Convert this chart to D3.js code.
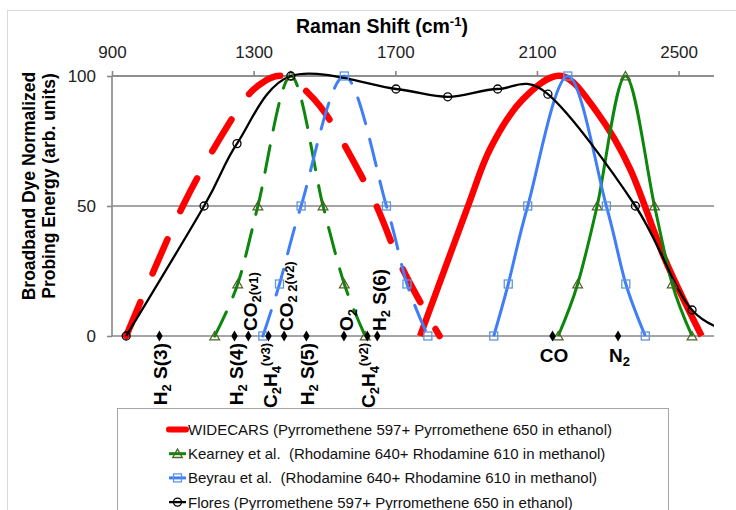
<!DOCTYPE html>
<html>
<head>
<meta charset="utf-8">
<script src="https://cdn.jsdelivr.net/npm/d3@7"></script>
<style>
  body { margin: 0; background: #fff; }
  text { font-family: "Liberation Sans", Arial, sans-serif; }
</style>
</head>
<body>
<svg id="chart" width="736" height="510"></svg>
<script>
// Raman shift axis (cm-1)
var xTicks = [900, 1300, 1700, 2100, 2500];
var yTicks = [0, 50, 100];

// WIDECARS, dashed part and solid part (no markers)
var widecarsDashX = [940, 1100, 1250, 1320, 1385, 1450, 1520, 1640, 1720, 1825];
var widecarsDashY = [0, 50, 86, 97, 100, 94, 82, 52, 26, 0];
var widecarsSolidX = [1770, 1900, 1968, 2060, 2170, 2270, 2364, 2460, 2565];
var widecarsSolidY = [0, 48, 72, 91, 100, 86, 64, 30, 0];

// Kearney et al.
var kearneyDashX = [1190, 1255, 1312, 1405, 1496, 1556, 1615];
var kearneyDashY = [0, 20, 50, 100, 50, 20, 0];
var kearneySolidX = [2160, 2215, 2270, 2350, 2432, 2482, 2538];
var kearneySolidY = [0, 20, 50, 100, 50, 20, 0];

// Beyrau et al.
var beyrauDashX = [1326, 1373, 1434, 1556, 1675, 1733, 1792];
var beyrauDashY = [0, 20, 50, 100, 50, 20, 0];
var beyrauSolidX = [1978, 2019, 2074, 2187, 2296, 2351, 2406];
var beyrauSolidY = [0, 20, 50, 100, 50, 20, 0];

// Flores
var floresX = [940, 1160, 1253, 1405, 1702, 1848, 1989, 2131, 2378, 2538, 2700];
var floresY = [0, 50, 74, 100, 95, 92, 95, 93, 50, 10, 0];

// species lines (diamonds on the zero line)
var speciesX = [1034, 1246, 1285, 1342, 1386, 1449, 1555, 1621, 1649, 2144, 2329];
var speciesLabels = [
  [["H"], ["2", "sub"], [" S(3)"]],
  [["H"], ["2", "sub"], [" S(4)"]],
  [["CO"], ["2", "sub"], ["(v1)", "small"]],
  [["C"], ["2", "sub"], ["H"], ["4", "sub"], ["(v3)", "sup"]],
  [["CO"], ["2", "sub"], [" 2", "sub"], ["(v2)", "small"]],
  [["H"], ["2", "sub"], [" S(5)"]],
  [["O"], ["2", "sub"]],
  [["C"], ["2", "sub"], ["H"], ["4", "sub"], ["(v2)", "sup"]],
  [["H"], ["2", "sub"], [" S(6)"]],
  [["CO"]],
  [["N"], ["2", "sub"]]
];
var speciesAbove = [2, 4, 6, 8];
var speciesFlat = [9, 10];

var legendNames = [
  "WIDECARS (Pyrromethene 597+ Pyrromethene 650 in ethanol)",
  "Kearney et al.  (Rhodamine 640+ Rhodamine 610 in methanol)",
  "Beyrau et al.  (Rhodamine 640+ Rhodamine 610 in methanol)",
  "Flores (Pyrromethene 597+ Pyrromethene 650 in ethanol)"
];

(function() {
  function zip(xs, ys) { return xs.map(function(v, i) { return [v, ys[i]]; }); }

  var series = [
    {color: "#ff0000", width: 6.5, marker: null, dash: "37,31",
     parts: [{pts: zip(widecarsDashX, widecarsDashY), dashed: true},
             {pts: zip(widecarsSolidX, widecarsSolidY), dashed: false}]},
    {color: "#0b870b", width: 3, marker: "triangle", mColor: "#4f6228", dash: "27,16",
     parts: [{pts: zip(kearneyDashX, kearneyDashY), dashed: true},
             {pts: zip(kearneySolidX, kearneySolidY), dashed: false}]},
    {color: "#3f7ef6", width: 3, marker: "square", mColor: "#5f95e0", dash: "27,16",
     parts: [{pts: zip(beyrauDashX, beyrauDashY), dashed: true},
             {pts: zip(beyrauSolidX, beyrauSolidY), dashed: false}]},
    {color: "#000000", width: 2.3, marker: "circle", mColor: "#000000", dash: null,
     parts: [{pts: zip(floresX, floresY), dashed: false}]}
  ];

  var svg = d3.select("#chart");
  var pLeft = 112, pRight = 714, pTop = 76, pBottom = 336;

  var x = d3.scaleLinear().domain([900, 2600]).range([pLeft, pRight]);
  var y = d3.scaleLinear().domain([0, 100]).range([pBottom, pTop]);

  // outer frame of the chart object
  svg.append("rect").attr("x", 7.5).attr("y", 10.5).attr("width", 760).attr("height", 600)
    .attr("fill", "none").attr("stroke", "#d9d9d9");

  svg.append("defs").append("clipPath").attr("id", "plotclip")
    .append("rect").attr("x", pLeft).attr("y", 0).attr("width", pRight - pLeft).attr("height", 510);

  // gridlines
  svg.append("g").selectAll("line").data(yTicks).join("line")
    .attr("x1", pLeft).attr("x2", pRight)
    .attr("y1", function(d) { return y(d); }).attr("y2", function(d) { return y(d); })
    .attr("stroke", "#878787").attr("stroke-width", 1.6);

  var gx = svg.append("g").attr("transform", "translate(0," + pTop + ")")
    .call(d3.axisTop(x).tickValues(xTicks).tickSize(5).tickPadding(13).tickFormat(d3.format("d")));
  var gy = svg.append("g").attr("transform", "translate(" + pLeft + ",0)")
    .call(d3.axisLeft(y).tickValues(yTicks).tickSize(5).tickPadding(11));
  [gx, gy].forEach(function(g) {
    g.select(".domain").attr("stroke", "#878787").attr("stroke-width", 1.6);
    g.selectAll(".tick line").attr("stroke", "#878787").attr("stroke-width", 1.6);
    g.selectAll("text").attr("font-size", 17).attr("fill", "#222")
      .attr("font-family", "Liberation Sans, Arial, sans-serif");
  });
  gx.select(".domain").attr("d", "M" + pLeft + ",0H" + pRight);
  gy.select(".domain").attr("d", "M0," + pBottom + "V" + pTop);

  // axis titles
  var title = svg.append("text").attr("x", 296).attr("y", 33)
    .attr("font-size", 19.5).attr("font-weight", "bold").attr("fill", "#000");
  title.append("tspan").text("Raman Shift (cm");
  title.append("tspan").attr("font-size", 13).attr("baseline-shift", 7).text("-1");
  title.append("tspan").text(")");

  ["Broadband Dye Normalized", "Probing Energy (arb. units)"].forEach(function(t, i) {
    svg.append("text").attr("transform", "translate(" + (35 + i * 20) + ",186) rotate(-90)")
      .attr("text-anchor", "middle").attr("font-size", 17.5).attr("font-weight", "bold")
      .text(t);
  });

  // series lines
  var line = d3.line().x(function(d) { return x(d[0]); }).y(function(d) { return y(d[1]); })
    .curve(d3.curveCardinal.tension(0));

  var plot = svg.append("g").attr("clip-path", "url(#plotclip)");

  function drawMarker(g, type, color, cx, cy) {
    if (type === "triangle") {
      g.append("path").attr("d", d3.symbol(d3.symbolTriangle, 40)())
        .attr("transform", "translate(" + cx + "," + (cy + 1) + ")")
        .attr("fill", "none").attr("stroke", color).attr("stroke-width", 1.3);
    } else if (type === "square") {
      g.append("rect").attr("x", cx - 4).attr("y", cy - 4).attr("width", 8).attr("height", 8)
        .attr("fill", "none").attr("stroke", color).attr("stroke-width", 1.3);
    } else if (type === "circle") {
      g.append("circle").attr("cx", cx).attr("cy", cy).attr("r", 4)
        .attr("fill", "none").attr("stroke", color).attr("stroke-width", 1.3);
    }
  }

  series.forEach(function(s) {
    s.parts.forEach(function(p) {
      plot.append("path").datum(p.pts).attr("d", line)
        .attr("fill", "none").attr("stroke", s.color).attr("stroke-width", s.width)
        .attr("stroke-linecap", p.dashed ? "round" : "butt")
        .attr("stroke-linejoin", "round")
        .attr("stroke-dasharray", p.dashed ? s.dash : null);
    });
    if (s.marker) {
      s.parts.forEach(function(p) {
        p.pts.filter(function(d) { return d[0] >= 900 && d[0] <= 2600; }).forEach(function(d) {
          drawMarker(svg, s.marker, s.mColor, x(d[0]), y(d[1]));
        });
      });
    }
  });

  // species diamonds
  svg.append("g").selectAll("path").data(speciesX).join("path")
    .attr("d", d3.symbol(d3.symbolDiamond, 36)())
    .attr("transform", function(d) { return "translate(" + x(d) + "," + y(0) + ")"; })
    .attr("fill", "#000");

  // species labels
  function fillLabel(t, parts) {
    parts.forEach(function(p) {
      var ts = t.append("tspan").text(p[0]);
      if (p[1] === "sub") ts.attr("font-size", 13).attr("baseline-shift", -4);
      if (p[1] === "sup") ts.attr("font-size", 13).attr("baseline-shift", 7);
      if (p[1] === "small") ts.attr("font-size", 13).attr("baseline-shift", -1);
    });
  }

  speciesX.forEach(function(v, i) {
    var px = x(v);
    var t = svg.append("text").attr("font-size", 19).attr("font-weight", "bold")
      .attr("fill", "#000").style("white-space", "pre");
    if (speciesFlat.indexOf(i) >= 0) {
      t.attr("text-anchor", "middle").attr("x", px + 1.5).attr("y", 362);
    } else if (speciesAbove.indexOf(i) >= 0) {
      t.attr("transform", "translate(" + (px + 9) + "," + (y(0) - 5) + ") rotate(-90)");
    } else {
      t.attr("text-anchor", "end")
        .attr("transform", "translate(" + (px + 8) + "," + (y(0) + 7) + ") rotate(-90)");
    }
    fillLabel(t, speciesLabels[i]);
  });

  // legend
  var lg = svg.append("g");
  lg.append("rect").attr("x", 117.5).attr("y", 408.5).attr("width", 551).attr("height", 140)
    .attr("fill", "#fff").attr("stroke", "#a6a6a6");
  legendNames.forEach(function(name, i) {
    var cy = 429.5 + i * 24.2, s = series[i];
    lg.append("line").attr("x1", 169).attr("x2", 186).attr("y1", cy).attr("y2", cy)
      .attr("stroke", s.color).attr("stroke-width", i === 0 ? 6 : s.width)
      .attr("stroke-linecap", i === 0 ? "round" : "butt");
    if (s.marker) drawMarker(lg, s.marker, s.mColor, 177.5, cy);
    lg.append("text").attr("x", 188).attr("y", cy + 5.5).attr("font-size", 15)
      .attr("fill", "#111").style("white-space", "pre").text(name);
  });
})();
</script>
</body>
</html>
